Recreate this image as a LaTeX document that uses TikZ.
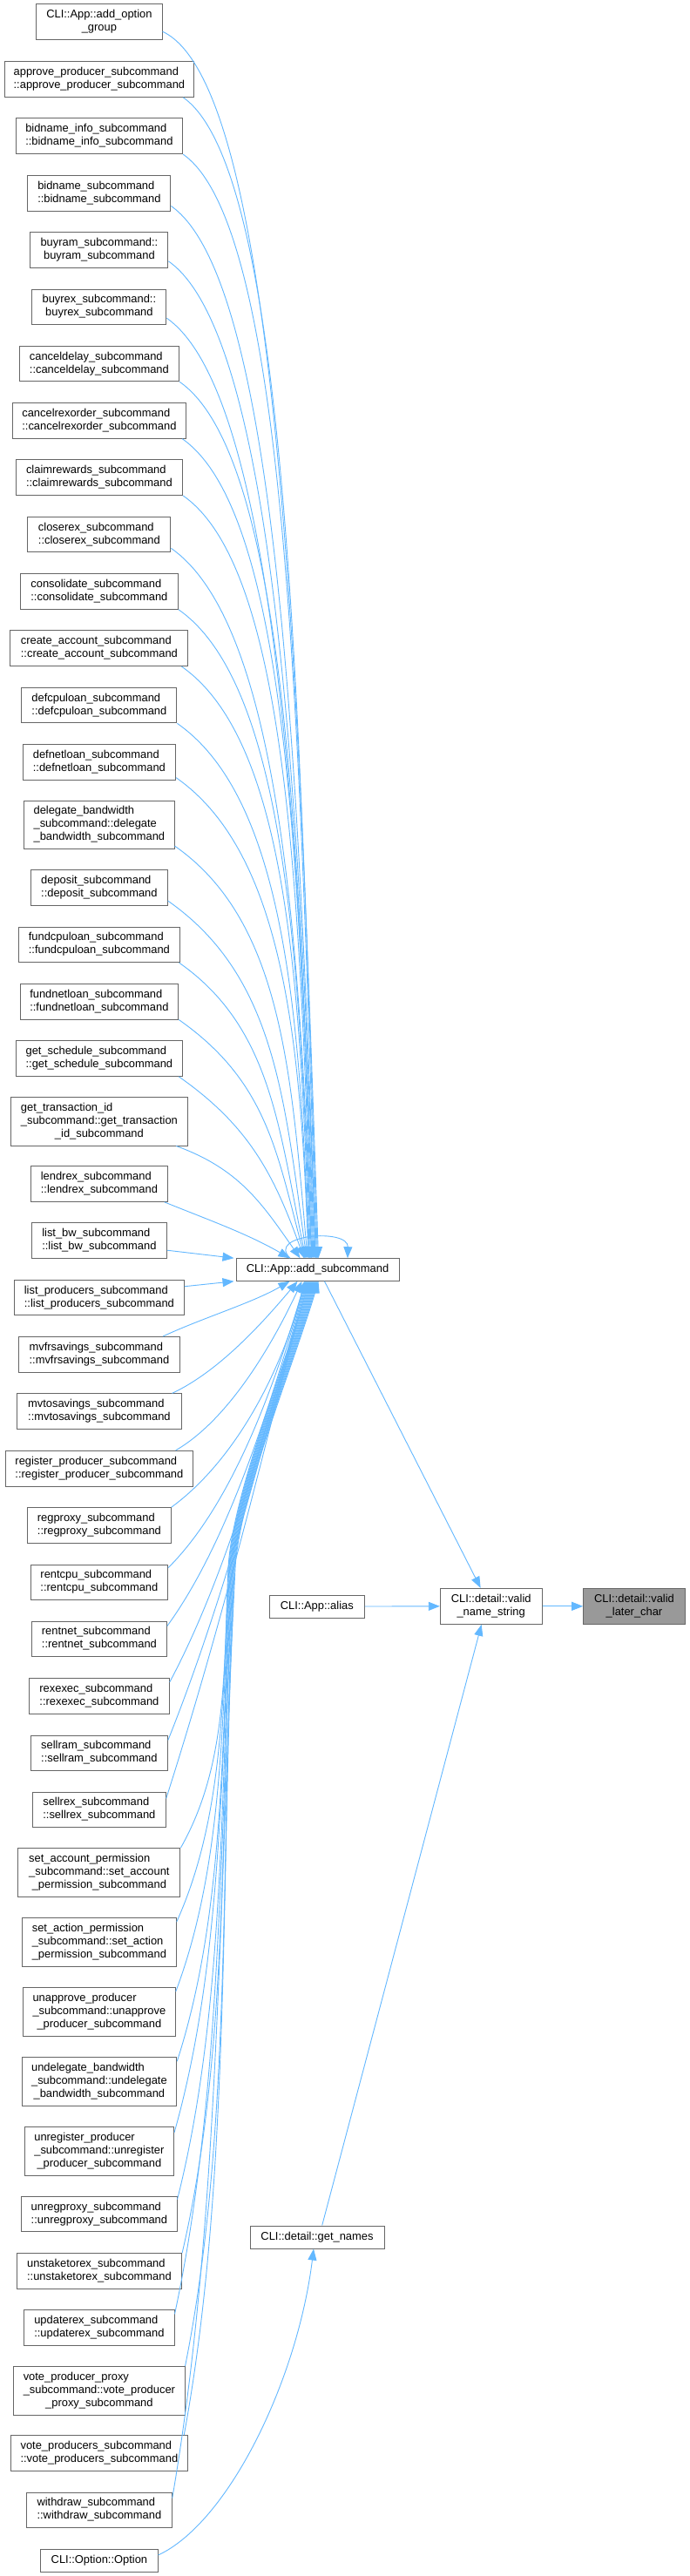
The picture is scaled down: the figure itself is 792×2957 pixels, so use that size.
\documentclass[tikz,border=0pt]{standalone}
\usepackage{fontspec}
\setmainfont{Liberation Sans}
\usetikzlibrary{arrows.meta}
\definecolor{edgecol}{HTML}{63B8FF}
\definecolor{boxline}{HTML}{666666}
\definecolor{hilite}{HTML}{999999}
\newcommand\twoL[2]{\begin{tabular}{@{}l@{}}#1\\\multicolumn{1}{@{}c@{}}{#2}\end{tabular}}
\newcommand\thrL[3]{\begin{tabular}{@{}l@{}}#1\\#2\\\multicolumn{1}{@{}c@{}}{#3}\end{tabular}}
\newcommand\subpair[1]{\twoL{#1\_subcommand}{::#1\_subcommand}}
\begin{document}
\begin{tikzpicture}[x=1pt,y=1pt,
  nbox/.style={draw=boxline, fill=white, line width=1pt, inner sep=0pt, font=\fontsize{12.9}{15}\selectfont},
  ltwo/.style={nbox, minimum height=40.7pt},
  lthree/.style={nbox, minimum height=55.7pt},
  lone/.style={nbox, minimum height=26pt, text height=10.5pt, text depth=4.5pt},
  conn/.style={draw=edgecol, line width=0.9pt, -{Triangle[length=13pt,width=10pt]}}]
\fill[white] (0,0) rectangle (792,-2957);
\useasboundingbox (0,0) rectangle (792,-2957);

% left column
\node[ltwo, minimum width=144.3pt] (n1) at (113.9,-25.35) {\twoL{CLI::App::add\_option}{\_group}};
\node[ltwo, minimum width=217.7pt] (n2) at (113.9,-91.0) {\subpair{approve\_producer}};
\node[ltwo, minimum width=191.7pt] (n3) at (113.9,-156.35) {\subpair{bidname\_info}};
\node[ltwo, minimum width=164pt] (n4) at (113.9,-221.65) {\subpair{bidname}};
\node[ltwo, minimum width=158pt] (n5) at (113.9,-287.0) {\twoL{buyram\_subcommand::}{buyram\_subcommand}};
\node[ltwo, minimum width=154pt] (n6) at (113.9,-352.35) {\twoL{buyrex\_subcommand::}{buyrex\_subcommand}};
\node[ltwo, minimum width=183.7pt] (n7) at (113.9,-417.5) {\subpair{canceldelay}};
\node[ltwo, minimum width=199.7pt] (n8) at (113.9,-482.85) {\subpair{cancelrexorder}};
\node[ltwo, minimum width=191.7pt] (n9) at (113.9,-548.2) {\subpair{claimrewards}};
\node[ltwo, minimum width=164pt] (n10) at (113.9,-613.5) {\subpair{closerex}};
\node[ltwo, minimum width=181pt] (n11) at (113.9,-678.85) {\subpair{consolidate}};
\node[ltwo, minimum width=204pt] (n12) at (113.9,-744.2) {\subpair{create\_account}};
\node[ltwo, minimum width=178pt] (n13) at (113.9,-809.5) {\subpair{defcpuloan}};
\node[ltwo, minimum width=175.4pt] (n14) at (113.9,-874.8) {\subpair{defnetloan}};
\node[lthree, minimum width=172.6pt] (n15) at (113.9,-946.85) {\thrL{delegate\_bandwidth}{\_subcommand::delegate}{\_bandwidth\_subcommand}};
\node[ltwo, minimum width=156.6pt] (n16) at (113.9,-1019.2) {\subpair{deposit}};
\node[ltwo, minimum width=184.6pt] (n17) at (113.9,-1084.35) {\subpair{fundcpuloan}};
\node[ltwo, minimum width=181.7pt] (n18) at (113.9,-1149.65) {\subpair{fundnetloan}};
\node[ltwo, minimum width=191.7pt] (n19) at (113.9,-1215.0) {\subpair{get\_schedule}};
\node[lthree, minimum width=203.7pt] (n20) at (113.9,-1287.15) {\thrL{get\_transaction\_id}{\_subcommand::get\_transaction}{\_id\_subcommand}};
\node[ltwo, minimum width=156.6pt] (n21) at (113.9,-1359.0) {\subpair{lendrex}};
\node[ltwo, minimum width=155pt] (n22) at (113.9,-1424.2) {\subpair{list\_bw}};
\node[ltwo, minimum width=194.9pt] (n23) at (113.9,-1489.5) {\subpair{list\_producers}};
\node[ltwo, minimum width=185.4pt] (n24) at (113.9,-1554.8) {\subpair{mvfrsavings}};
\node[ltwo, minimum width=188.3pt] (n25) at (113.9,-1620.2) {\subpair{mvtosavings}};
\node[ltwo, minimum width=214.6pt] (n26) at (113.9,-1685.65) {\subpair{register\_producer}};
\node[ltwo, minimum width=164.7pt] (n27) at (113.9,-1751.0) {\subpair{regproxy}};
\node[ltwo, minimum width=157.7pt] (n28) at (113.9,-1816.35) {\subpair{rentcpu}};
\node[ltwo, minimum width=155pt] (n29) at (113.9,-1881.35) {\subpair{rentnet}};
\node[ltwo, minimum width=160.6pt] (n30) at (113.9,-1946.85) {\subpair{rexexec}};
\node[ltwo, minimum width=157pt] (n31) at (113.9,-2012.35) {\subpair{sellram}};
\node[ltwo, minimum width=152.6pt] (n32) at (113.9,-2077.35) {\subpair{sellrex}};
\node[lthree, minimum width=186pt] (n33) at (113.9,-2149.5) {\thrL{set\_account\_permission}{\_subcommand::set\_account}{\_permission\_subcommand}};
\node[lthree, minimum width=176.6pt] (n34) at (113.9,-2229.5) {\thrL{set\_action\_permission}{\_subcommand::set\_action}{\_permission\_subcommand}};
\node[lthree, minimum width=174.6pt] (n35) at (113.9,-2309.5) {\thrL{unapprove\_producer}{\_subcommand::unapprove}{\_producer\_subcommand}};
\node[lthree, minimum width=177.7pt] (n36) at (113.9,-2389.5) {\thrL{undelegate\_bandwidth}{\_subcommand::undelegate}{\_bandwidth\_subcommand}};
\node[lthree, minimum width=171.4pt] (n37) at (113.9,-2469.5) {\thrL{unregister\_producer}{\_subcommand::unregister}{\_producer\_subcommand}};
\node[ltwo, minimum width=178.3pt] (n38) at (113.9,-2541.5) {\subpair{unregproxy}};
\node[ltwo, minimum width=189.4pt] (n39) at (113.9,-2607.0) {\subpair{unstaketorex}};
\node[ltwo, minimum width=172.2pt] (n40) at (113.9,-2672.2) {\subpair{updaterex}};
\node[lthree, minimum width=196.3pt] (n41) at (113.9,-2744.3) {\thrL{vote\_producer\_proxy}{\_subcommand::vote\_producer}{\_proxy\_subcommand}};
\node[ltwo, minimum width=203.6pt] (n42) at (113.9,-2816.2) {\subpair{vote\_producers}};
\node[ltwo, minimum width=166.7pt] (n43) at (113.9,-2881.35) {\subpair{withdraw}};
\node[lone, minimum width=134.3pt] (n44) at (113.9,-2939.0) {CLI::Option::Option};

% right part
\node[lone, minimum width=187pt, minimum height=25.6pt] (add) at (364.5,-1457.5) {CLI::App::add\_subcommand};
\node[lone, minimum width=109pt] (alias) at (363.8,-1844) {CLI::App::alias};
\node[ltwo, minimum width=116.7pt, minimum height=41pt] (vns) at (563.65,-1843.8) {\twoL{CLI::detail::valid}{\_name\_string}};
\node[ltwo, minimum width=116.6pt, minimum height=41pt, fill=hilite] (vlc) at (728,-1843.8) {\twoL{CLI::detail::valid}{\_later\_char}};
\node[lone, minimum width=154pt] (getn) at (364,-2568) {CLI::detail::get\_names};

% waypoints of the lower bundle
\coordinate (w33) at (262,-1800);
\coordinate (w34) at (262.8,-1800);
\coordinate (w35) at (263.6,-1800);
\coordinate (w36) at (264.4,-1800);
\coordinate (w37) at (265.2,-1800);
\coordinate (w38) at (266,-1800);
\coordinate (w39) at (266.8,-1800);
\coordinate (w40) at (267.6,-1800);
\coordinate (w41) at (268.4,-1800);
\coordinate (w42) at (269.2,-1800);
\coordinate (w43) at (270,-1800);

% upper edges
\draw[conn] ([yshift=10pt]n1.south east) .. controls +(136,-63) and +(-22,634) .. ([xshift=95pt]add.north west);
\draw[conn] ([xshift=-13pt]n2.south east) .. controls +(123,-86) and +(-21,600) .. ([xshift=94pt]add.north west);
\draw[conn] (n3.south east) .. controls +(123,-86) and +(-20,570) .. ([xshift=93pt]add.north west);
\draw[conn] ([yshift=6pt]n4.south east) .. controls +(123,-86) and +(-19,544) .. ([xshift=92pt]add.north west);
\draw[conn] ([yshift=8pt]n5.south east) .. controls +(123,-86) and +(-18,516) .. ([xshift=91.5pt]add.north west);
\draw[conn] ([yshift=8pt]n6.south east) .. controls +(123,-86) and +(-17,486) .. ([xshift=90.5pt]add.north west);
\draw[conn] (n7.south east) .. controls +(123,-86) and +(-16,453) .. ([xshift=89.5pt]add.north west);
\draw[conn] ([xshift=-5pt]n8.south east) .. controls +(123,-86) and +(-15,424) .. ([xshift=88.5pt]add.north west);
\draw[conn] (n9.south east) .. controls +(123,-86) and +(-14,394) .. ([xshift=87.5pt]add.north west);
\draw[conn] ([yshift=5pt]n10.south east) .. controls +(123,-86) and +(-13,368) .. ([xshift=87pt]add.north west);
\draw[conn] (n11.south east) .. controls +(123,-86) and +(-12,336) .. ([xshift=86pt]add.north west);
\draw[conn] ([xshift=-8pt]n12.south east) .. controls +(123,-86) and +(-11,306) .. ([xshift=85pt]add.north west);
\draw[conn] (n13.south east) .. controls +(123,-86) and +(-10,277) .. ([xshift=84pt]add.north west);
\draw[conn] ([yshift=3pt]n14.south east) .. controls +(123,-86) and +(-9,249) .. ([xshift=83.5pt]add.north west);
\draw[conn] ([yshift=4pt]n15.south east) .. controls +(123,-86) and +(-18.6,212) .. ([xshift=82.5pt]add.north west);
\draw[conn] ([yshift=6pt]n16.south east) .. controls +(123,-86) and +(-25.7,183) .. ([xshift=81.5pt]add.north west);
\draw[conn] ([xshift=-1pt]n17.south east) .. controls +(106.5,-74.6) and +(-31,147) .. ([xshift=80.5pt]add.north west);
\draw[conn] (n18.south east) .. controls +(101.6,-71.1) and +(-32,120) .. ([xshift=79.5pt]add.north west);
\draw[conn] ([xshift=-5pt]n19.south east) .. controls +(82,-57.4) and +(-34,94) .. ([xshift=78.5pt]add.north west);
\draw[conn] ([xshift=-14pt]n20.south east) .. controls +(72.4,-26.3) and +(-44,63) .. ([xshift=74pt]add.north west);
\draw[conn] ([xshift=-4pt]n21.south east) .. controls +(52,-21) and +(-48.5,28) .. ([xshift=62pt]add.north west);
\draw[conn] ([yshift=-11pt]n22.east) -- ([xshift=-2pt]add.north west);
\draw[conn] ([yshift=12.8pt]n23.east) -- ([xshift=-2pt]add.south west);

% lower edges
\draw[conn] ([xshift=-20pt]n24.north east) .. controls +(45.3,21.1) and +(-43.3,-25) .. ([xshift=62pt]add.south west);
\draw[conn] ([xshift=-11pt]n25.north east) .. controls +(54.4,25.4) and +(-38.6,-46) .. ([xshift=71pt]add.south west);
\draw[conn] ([xshift=-20pt]n26.north east) .. controls +(60.6,35) and +(-33.8,-72.5) .. ([xshift=76pt]add.south west);
\draw[conn] (n27.north east) .. controls +(75,55) and +(-25,-100) .. ([xshift=79pt]add.south west);
\draw[conn] ([yshift=-4pt]n28.north east) .. controls +(80,80) and +(-30,-100) .. ([xshift=80pt]add.south west);
\draw[conn] ([yshift=-6pt]n29.north east) .. controls +(80,110) and +(-30,-100) .. ([xshift=81pt]add.south west);
\draw[conn] ([yshift=-5pt]n30.north east) .. controls +(80,150) and +(-30,-100) .. ([xshift=82pt]add.south west);
\draw[conn] ([yshift=-6pt]n31.north east) .. controls +(80,200) and +(-30,-100) .. ([xshift=83pt]add.south west);
\draw[conn] ([yshift=-8pt]n32.north east) .. controls +(80,250) and +(-30,-100) .. ([xshift=84pt]add.south west);
\draw[conn] (n33.north east) .. controls +(55,97) and +(-5.6,-113) .. (w33) .. controls +(4,80) and +(-30,-100) .. ([xshift=85pt]add.south west);
\draw[conn] ([yshift=-5pt]n34.north east) .. controls +(55,122) and +(-7,-142) .. (w34) .. controls +(4,80) and +(-30,-100) .. ([xshift=86pt]add.south west);
\draw[conn] ([yshift=-5pt]n35.north east) .. controls +(55,146) and +(-8.5,-170) .. (w35) .. controls +(4,80) and +(-30,-100) .. ([xshift=87pt]add.south west);
\draw[conn] ([yshift=-5pt]n36.north east) .. controls +(55,170) and +(-10,-198) .. (w36) .. controls +(4,80) and +(-30,-100) .. ([xshift=88pt]add.south west);
\draw[conn] ([yshift=-6.6pt]n37.north east) .. controls +(55,194) and +(-11,-227) .. (w37) .. controls +(4,80) and +(-30,-100) .. ([xshift=89pt]add.south west);
\draw[conn] ([yshift=-4pt]n38.north east) .. controls +(55,218) and +(-13,-254) .. (w38) .. controls +(4,80) and +(-30,-100) .. ([xshift=90pt]add.south west);
\draw[conn] (n39.north east) .. controls +(55,236) and +(-14,-275) .. (w39) .. controls +(4,80) and +(-30,-100) .. ([xshift=91pt]add.south west);
\draw[conn] ([yshift=-5pt]n40.north east) .. controls +(55,257) and +(-15,-300) .. (w40) .. controls +(4,80) and +(-30,-100) .. ([xshift=92pt]add.south west);
\draw[conn] (n41.north east) .. controls +(55,275) and +(-16,-320) .. (w41) .. controls +(4,80) and +(-30,-100) .. ([xshift=93pt]add.south west);
\draw[conn] ([xshift=-5pt]n42.north east) .. controls +(55,298) and +(-17,-348) .. (w42) .. controls +(4,80) and +(-30,-100) .. ([xshift=94pt]add.south west);
\draw[conn] ([yshift=-7pt]n43.north east) .. controls +(55,320) and +(-19,-374) .. (w43) .. controls +(4,80) and +(-30,-100) .. ([xshift=95pt]add.south west);

% self loop
\draw[conn] ([xshift=-31.5pt]add.north) .. controls +(-28,27) and +(1,34.7) .. ([xshift=34.5pt]add.north);

% right side edges
\draw[conn] ([xshift=8pt]add.south) -- ([xshift=-12pt]vns.north);
\draw[conn] (alias.east) -- (vns.west);
\draw[conn] (vns.east) -- (vlc.west);
\draw[conn] ([xshift=5.7pt]getn.north) -- ([xshift=-11pt]vns.south);
\draw[conn] ([yshift=6pt]n44.east) .. controls +(81.6,38) and +(-18.3,-148.9) .. ([xshift=-4pt]getn.south);
\end{tikzpicture}
\end{document}
